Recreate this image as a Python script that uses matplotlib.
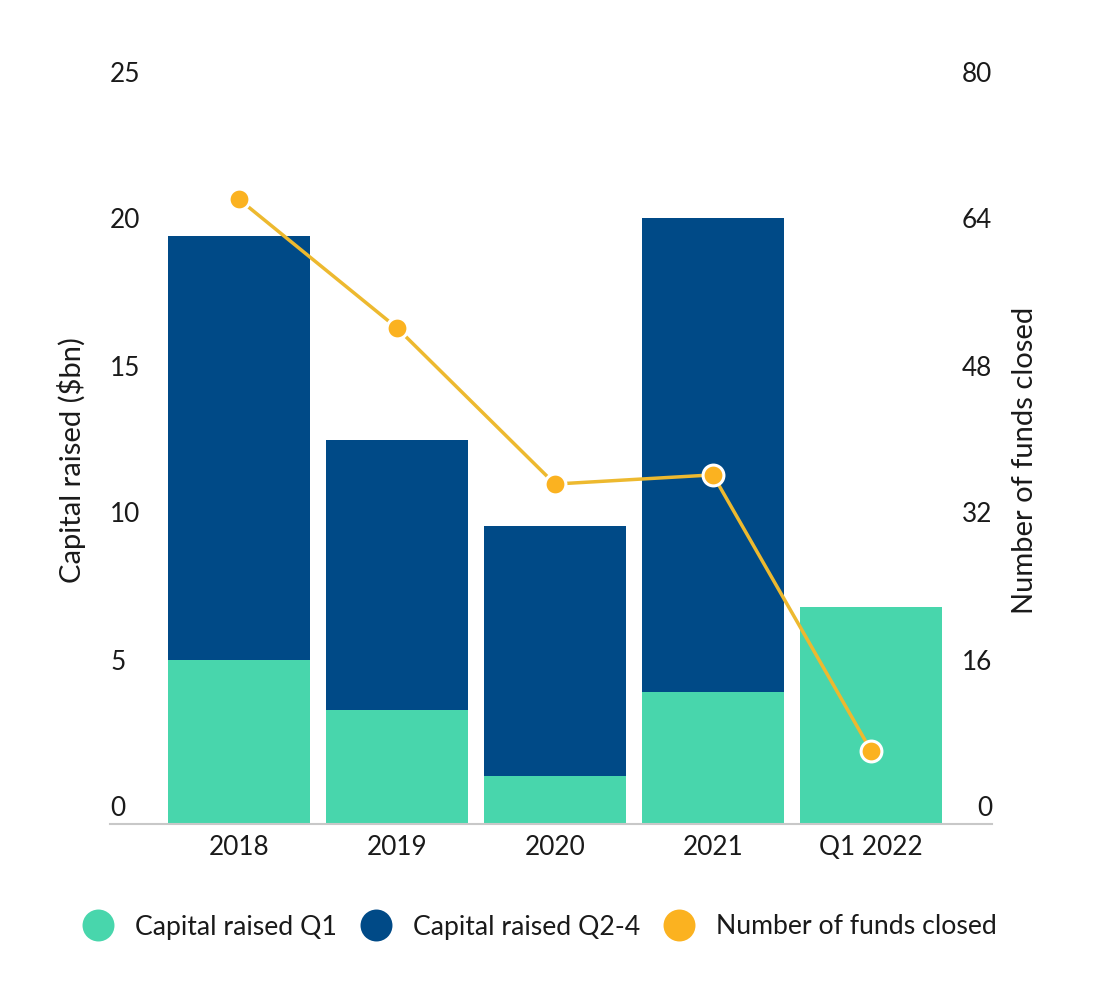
import matplotlib
matplotlib.use("Agg")
import matplotlib.pyplot as plt
import matplotlib.transforms as mtransforms
from matplotlib.lines import Line2D

plt.rcParams['font.family'] = ['Lato', 'DejaVu Sans']

categories = ["2018", "2019", "2020", "2021", "Q1 2022"]
capital_q1 = [5.58, 3.88, 1.63, 4.49, 7.38]
capital_q2_4 = [14.42, 9.18, 8.51, 16.12, 0.0]
funds_closed = [68, 54, 37, 38, 8]
left_ticks = [0, 5, 10, 15, 20, 25]
right_ticks = [0, 16, 32, 48, 64, 80]

C_Q1 = "#48D6AC"
C_Q24 = "#004A87"
C_LINE = "#EDB92F"
C_MARK = "#FBB220"
FS_TICK = 18.8
FS_LEG = 19.2
FS_TITLE = 21
TXT = "#1a1a1a"

fig = plt.figure(figsize=(11, 9.9), dpi=100)
ax = fig.add_axes([110/1100, (990-824)/990, 882/1100, 735/990])
ax.set_xlim(-0.816, 4.766)
ax.set_ylim(0, 25)

x = list(range(len(categories)))
ax.bar(x, capital_q1, width=0.9, color=C_Q1, zorder=2)
ax.bar(x, capital_q2_4, width=0.9, bottom=capital_q1, color=C_Q24, zorder=2)

for s in ["top", "left", "right"]:
    ax.spines[s].set_visible(False)
ax.spines["bottom"].set_color("#c8c8c8")
ax.spines["bottom"].set_linewidth(1.5)
ax.spines["bottom"].set_zorder(3)
ax.set_xticks(x)
ax.set_xticklabels(categories, fontsize=FS_TICK, color=TXT)
ax.tick_params(axis="x", length=0, pad=8)
ax.set_yticks([])

off = mtransforms.ScaledTranslation(0, 15/100, fig.dpi_scale_trans)
tl = mtransforms.blended_transform_factory(ax.transAxes, ax.transData) + off
for v in left_ticks:
    ax.text(0, v, str(v), transform=tl, ha="left", va="center", fontsize=FS_TICK, color=TXT)

ax2 = ax.twinx()
ax2.set_ylim(0, 80)
ax2.set_yticks([])
for s in ["top", "left", "right", "bottom"]:
    ax2.spines[s].set_visible(False)
tr = mtransforms.blended_transform_factory(ax2.transAxes, ax2.transData) + off
for v in right_ticks:
    ax2.text(1, v, str(v), transform=tr, ha="right", va="center", fontsize=FS_TICK, color=TXT)

ax2.plot(x, funds_closed, color=C_LINE, lw=2.5, zorder=4,
         marker="o", ms=15, mfc=C_MARK, mec="white", mew=2.2, clip_on=False)

fig.text(72/1100, 1 - 460/990, "Capital raised ($bn)", rotation=90, ha="center", va="center",
         fontsize=FS_TITLE, color=TXT)
fig.text(1025/1100, 1 - 460/990, "Number of funds closed", rotation=90, ha="center", va="center",
         fontsize=FS_TITLE, color=TXT)

handles = [
    Line2D([], [], ls="none", marker="o", ms=23, mfc=C_Q1, mec="none", label="Capital raised Q1"),
    Line2D([], [], ls="none", marker="o", ms=23, mfc=C_Q24, mec="none", label="Capital raised Q2-4"),
    Line2D([], [], ls="none", marker="o", ms=23, mfc=C_MARK, mec="none", label="Number of funds closed"),
]
leg = fig.legend(handles=handles, loc="center", bbox_to_anchor=(539/1100, 1 - 927/990),
                 ncol=3, frameon=False, fontsize=FS_LEG, handlelength=1.3, handletextpad=0.75,
                 columnspacing=0.8, labelcolor=TXT)

fig.savefig("out.png", dpi=100, facecolor="white")
